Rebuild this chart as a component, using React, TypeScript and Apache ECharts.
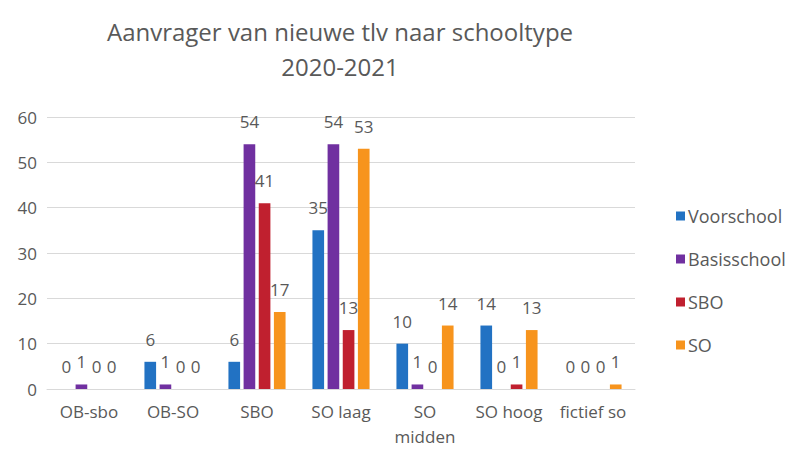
import React, { useEffect, useRef } from "react";
import * as echarts from "echarts";

const categories = ["OB-sbo", "OB-SO", "SBO", "SO laag", "SO\nmidden", "SO hoog", "fictief so"];
const voorschool = [0, 6, 6, 35, 10, 14, 0];
const basisschool = [1, 1, 54, 54, 1, 0, 0];
const sbo = [0, 0, 41, 13, 0, 1, 0];
const so = [0, 0, 17, 53, 14, 13, 1];
const seriesNames = ["Voorschool", "Basisschool", "SBO", "SO"];
const colors = ["#2272c3", "#7030a0", "#c0202f", "#f7941d"];

export default function App() {
  const ref = useRef<HTMLDivElement>(null);
  useEffect(() => {
    const chart = echarts.init(ref.current!, undefined, { renderer: "svg" });
    const data = [voorschool, basisschool, sbo, so];
    chart.setOption({
      animation: false,
      backgroundColor: "#ffffff",
      textStyle: { fontFamily: "Open Sans" },
      title: {
        text: "Aanvrager van nieuwe tlv naar schooltype\n2020-2021",
        left: 335,
        top: 9,
        textAlign: "center",
        textStyle: { fontSize: 24, fontWeight: "normal", color: "#595959", lineHeight: 35, fontFamily: "Open Sans" },
      },
      legend: {
        orient: "vertical",
        left: 671,
        top: 202,
        itemGap: 25,
        itemWidth: 9,
        itemHeight: 9,
        icon: "rect",
        textStyle: { fontSize: 18, color: "#595959", padding: [0, 0, 0, -2] },
        data: seriesNames,
      },
      grid: { left: 47, right: 161, top: 117, bottom: 63, containLabel: false, outerBoundsMode: "none" },
      xAxis: {
        type: "category",
        data: categories,
        axisTick: { show: false },
        axisLine: { lineStyle: { color: "#d9d9d9" } },
        axisLabel: { fontSize: 17, color: "#595959", margin: 10, lineHeight: 25, interval: 0 },
      },
      yAxis: {
        type: "value",
        min: 0,
        max: 60,
        interval: 10,
        axisLabel: { fontSize: 17, color: "#595959", margin: 10 },
        splitLine: { lineStyle: { color: "#d9d9d9" } },
        axisLine: { show: false },
        axisTick: { show: false },
      },
      series: data.map((d, i) => ({
        name: seriesNames[i],
        type: "bar",
        data: d,
        barGap: "30%",
        barCategoryGap: "32%",
        itemStyle: { color: colors[i] },
        label: { show: true, position: "top", fontSize: 17, color: "#595959", distance: 14 },
      })),
    });
    return () => chart.dispose();
  }, []);
  return (
    <div
      ref={ref}
      style={{ position: "absolute", left: 0, top: 0, width: 796, height: 452 }}
    />
  );
}
